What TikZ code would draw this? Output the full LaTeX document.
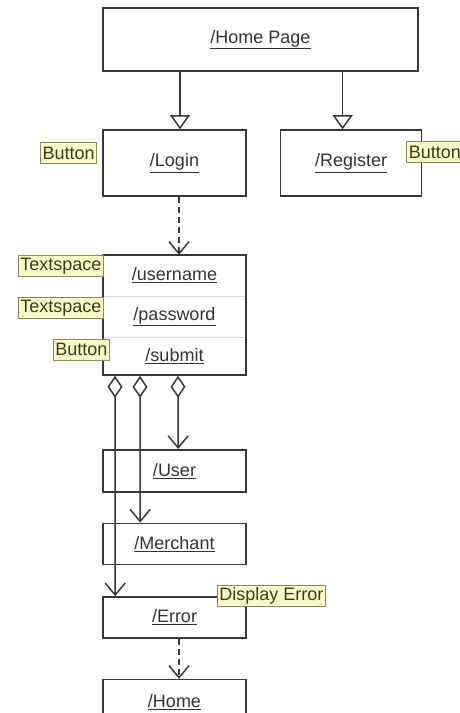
\documentclass[tikz,border=0pt]{standalone}
\usepackage{fontspec}
\setmainfont{Liberation Sans}
\usetikzlibrary{positioning,fit,arrows.meta,calc}
\definecolor{tagfill}{HTML}{FAFAC8}
\definecolor{tagdraw}{HTML}{8A8A5A}
\definecolor{tagtext}{HTML}{3C3C1E}
\definecolor{ln}{HTML}{383838}

\begin{document}
\begin{tikzpicture}[
    x=1pt, y=1pt,
    font=\fontsize{18}{21}\selectfont,
    pg/.style={draw=ln, line width=1.6pt, fill=white, minimum width=143pt, text=black!80, inner sep=0pt},
    row/.style={minimum width=143pt, minimum height=41pt, inner sep=0pt, text=black!80},
    tag/.style={draw=tagdraw, fill=tagfill, text=tagtext, line width=1pt, inner xsep=2pt, inner ysep=0pt, minimum height=21pt},
    gen/.style={-{Triangle[open, length=14pt, width=20pt]}, draw=ln, line width=1.5pt},
    dep/.style={-{Straight Barb[length=12pt, width=20pt]}, dash pattern=on 6pt off 4pt, draw=ln, line width=1.5pt},
    agg/.style={{Diamond[open, length=22pt, width=15pt]}-{Straight Barb[length=12pt, width=20pt]}, draw=ln, line width=1.5pt},
]
    \useasboundingbox (0,0) rectangle (460,-713);

    % pages
    \node[pg, minimum width=315pt, minimum height=63pt] (home) at (260.5,-39.5) {\underline{/Home Page}};
    \node[pg, minimum height=66pt] (login) at (174.5,-163) {\underline{/Login}};
    \node[pg, minimum width=141pt, minimum height=66pt, right=33pt of login] (reg) {\underline{/Register}};

    % login form
    \node[row, below=58pt of login] (uname) {\underline{/username}};
    \node[row, below=0pt of uname] (pass) {\underline{/password}};
    \node[row, minimum height=37pt, below=0pt of pass] (subm) {\underline{/submit}};
    \draw[black!15, line width=1pt] (uname.south west) -- (uname.south east);
    \draw[black!15, line width=1pt] (pass.south west) -- (pass.south east);
    \node[pg, fill=none, fit=(uname)(subm)] (form) {};

    \node[pg, minimum height=42pt, below=74pt of subm] (user) {\underline{/User}};
    \node[pg, minimum height=41pt, below=30pt of user] (merch) {\underline{/Merchant}};
    \node[pg, minimum height=41pt, below=31pt of merch] (err) {\underline{/Error}};
    \node[pg, minimum height=50pt, below=40pt of err] (homeb) {\raisebox{7pt}{\underline{/Home}}};

    % connectors
    \coordinate (lin) at ([xshift=5.5pt]login.north);
    \coordinate (rin) at ([xshift=-8.5pt]reg.north);
    \coordinate (fin) at ([xshift=4.5pt]uname.north);
    \draw[gen] (home.south -| lin) -- (lin);
    \draw[gen] (home.south -| rin) -- (rin);
    \draw[dep] (login.south -| fin) -- (fin);
    \draw[agg] ([xshift=76pt]form.south west) -- ([xshift=76pt]user.north west);
    \draw[agg] ([xshift=38pt]form.south west) -- ([xshift=38pt]merch.north west);
    \draw[agg] ([xshift=13pt]form.south west) -- ([xshift=13pt]err.north west);
    \draw[dep] ([xshift=4.5pt]err.south) -- ([xshift=4.5pt]homeb.north);

    % widget notes
    \node[tag, left=5pt of login.west, yshift=10pt] (btnlogin) {Button};
    \node[tag, anchor=west] (btnreg) at ([xshift=-16pt, yshift=11pt]reg.east) {Button};
    \node[tag, anchor=north east] (txtuser) at ([xshift=1pt]uname.north west) {Textspace};
    \node[tag, anchor=north east] (txtpass) at ([xshift=1pt, yshift=-1pt]pass.north west) {Textspace};
    \node[tag, anchor=north east] (btnsub) at ([xshift=7pt, yshift=-1pt]subm.north west) {Button};
    \node[tag, anchor=west] (errmsg) at ([xshift=-30pt]err.north east) {Display Error};
\end{tikzpicture}
\end{document}
